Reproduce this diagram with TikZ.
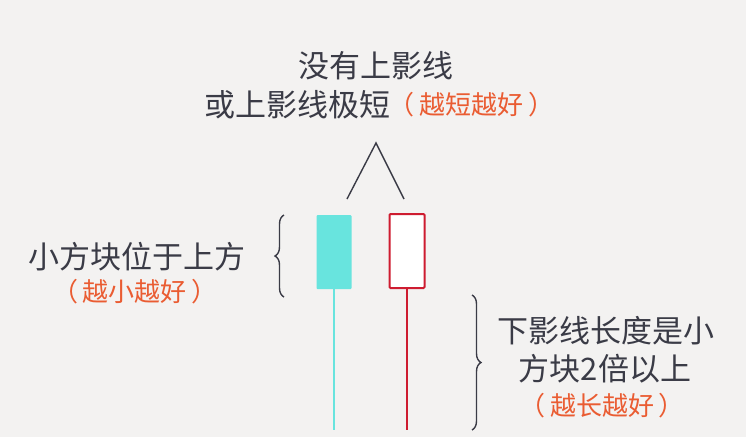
\documentclass[tikz,border=0pt]{standalone}
\usepackage{fontspec}
\setmainfont{Noto Sans CJK SC}
\usetikzlibrary{positioning, decorations.pathreplacing}
\definecolor{paper}{RGB}{243,242,241}
\definecolor{inkgray}{RGB}{58,59,70}
\definecolor{hintorange}{RGB}{234,92,50}
\definecolor{bullcyan}{RGB}{104,228,222}
\definecolor{barred}{RGB}{206,28,48}
\newcommand{\pgap}{\hspace{5pt}}

\begin{document}
\begin{tikzpicture}[
        x=1pt, y=-1pt,
        note/.style={font=\fontsize{31}{36}\selectfont, text=inkgray, inner sep=0pt},
        hint/.style={font=\fontsize{26}{30}\selectfont, text=hintorange, inner sep=0pt},
        brc/.style={decorate, decoration={brace, amplitude=9pt}, inkgray, line width=1.4pt},
        body/.style={inner sep=0pt, minimum width=35pt, minimum height=74pt, rounded corners=1pt}
    ]

    % paper, fixes the size of the page
    \fill[paper] (0, 0) rectangle (746, 437);
    \useasboundingbox (0, 0) rectangle (746, 437);

    % === TOP: upper shadow ===
    \node[note] (upA) at (376, 66) {没有上影线};
    \node[note, anchor=east] (upB) at (391, 105) {或上影线极短};
    \node[hint, anchor=west, xshift=-3pt] (upHint) at (upB.east) {（\pgap 越短越好\pgap ）};

    % caret pointing up
    \coordinate (apex) at (376, 143);
    \coordinate (capL) at (347, 199);
    \coordinate (capR) at (404, 199);
    \draw[inkgray, line width=1.4pt] (capL) -- (apex) -- (capR);

    % === CANDLES ===
    \node[body, fill=bullcyan] (cyanBody) at (334, 252) {};
    \coordinate (cyanFoot) at (334, 430);
    \draw[bullcyan, line width=2pt] (cyanBody.south) -- (cyanFoot);

    \node[body, draw=barred, line width=2pt, fill=white] (redBody) at (407, 251) {};
    \coordinate (redFoot) at (407, 430);
    \draw[barred, line width=2pt] (redBody.south) -- (redFoot);

    % === LEFT: small body on top ===
    \coordinate (lbBot) at (284, 297);
    \coordinate (lbTop) at (284, 215);
    \draw[brc] (lbBot) -- (lbTop);

    \node[note] (leftA) at (137, 257) {小方块位于上方};
    \node[hint] (leftHint) at (135, 292) {（\pgap 越小越好\pgap ）};

    % === RIGHT: long lower shadow ===
    \coordinate (rbTop) at (472, 295);
    \coordinate (rbBot) at (472, 430);
    \draw[brc] (rbTop) -- (rbBot);

    \node[note] (rightA) at (606, 331) {下影线长度是小};
    \node[note] (rightB) at (605, 369) {方块2倍以上};
    \node[hint] (rightHint) at (602, 406) {（\pgap 越长越好\pgap ）};

\end{tikzpicture}
\end{document}
